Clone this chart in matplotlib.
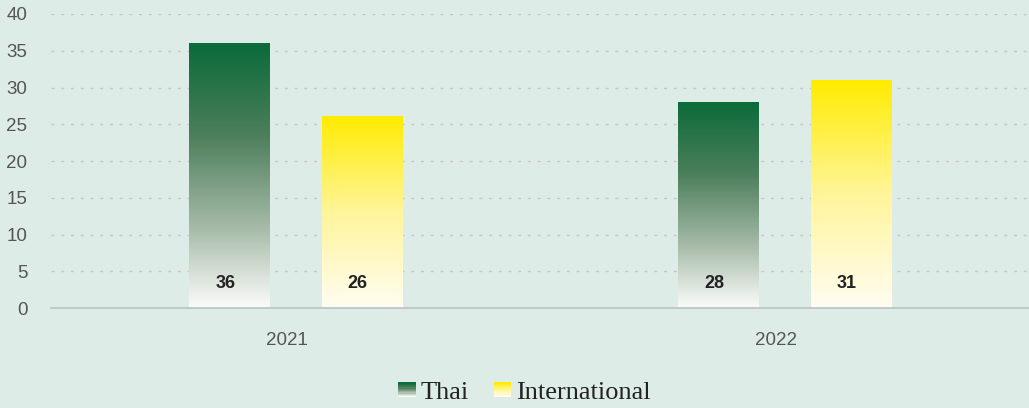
import matplotlib.pyplot as plt
import numpy as np
import matplotlib.transforms as mtransforms
from matplotlib.colors import LinearSegmentedColormap
from matplotlib.legend_handler import HandlerBase
from matplotlib.patches import Rectangle

years = ["2021", "2022"]
series_names = ["Thai", "International"]
thai = [36, 28]
international = [26, 31]

BG = "#deece8"

# vertical fades: top colour -> almost white at the base
green_cmap = LinearSegmentedColormap.from_list(
    "thai", [(0.0, "#fbfcfa"), (0.3, "#a7bba9"), (0.65, "#4d7f5c"), (1.0, "#0b6b3a")])
yellow_cmap = LinearSegmentedColormap.from_list(
    "intl", [(0.0, "#fffdf2"), (0.5, "#fff59a"), (1.0, "#ffec00")])


def gradient_bar(ax, x, w, h, cmap):
    grad = np.linspace(0, 1, 256).reshape(-1, 1)
    ax.imshow(grad, cmap=cmap, origin="lower", aspect="auto",
              extent=(x - w / 2, x + w / 2, 0, h), zorder=3)


class GradientHandler(HandlerBase):
    def __init__(self, cmap):
        super().__init__()
        self.cmap = cmap

    def create_artists(self, legend, orig_handle, xdescent, ydescent,
                       width, height, fontsize, trans):
        n = 12
        arts = []
        for i in range(n):
            r = Rectangle((0, -ydescent + height * i / n), width, height / n + 0.3,
                          facecolor=self.cmap(i / (n - 1)), edgecolor="none",
                          transform=trans)
            arts.append(r)
        return arts


fig = plt.figure(figsize=(10.29, 4.08), dpi=100, facecolor=BG)
ax = fig.add_axes([0.0496, 0.245, 0.9504, 0.7207], facecolor=BG)

# value labels sit a few pixels left of the bar centre
lab_shift = mtransforms.ScaledTranslation(-4 / 100, 0, fig.dpi_scale_trans)

x = np.arange(len(years))
w = 0.164
off = 0.1355
for i in range(len(years)):
    gradient_bar(ax, x[i] - off, w, thai[i], green_cmap)
    gradient_bar(ax, x[i] + off, w, international[i], yellow_cmap)
    for xx, v in [(x[i] - off, thai[i]), (x[i] + off, international[i])]:
        ax.text(xx, 3.4, str(v), ha="center", va="center",
                fontsize=13, fontweight="bold", color="#222222",
                family="Liberation Sans", zorder=4,
                transform=ax.transData + lab_shift)

ax.set_xlim(-0.5, 1.5)
ax.set_ylim(0, 40)
ax.set_yticks(range(0, 41, 5))
# year labels sit slightly left of the group centre
ax.set_xticks(x - 0.018)
ax.set_xticklabels(years)
for lab in ax.get_xticklabels() + ax.get_yticklabels():
    lab.set_family("Liberation Sans")
    lab.set_fontsize(13.5)
    lab.set_color("#555555")
ax.tick_params(axis="y", length=0, pad=17)
ax.tick_params(axis="x", length=0, pad=17)
ax.yaxis.grid(True, linestyle=(0, (2.2, 4.8)), color="#c9c6c6", linewidth=1)
ax.set_axisbelow(True)
for s in ["top", "right", "left"]:
    ax.spines[s].set_visible(False)
ax.spines["bottom"].set_color("#b9c3c1")
ax.spines["bottom"].set_linewidth(1.2)
ax.spines["bottom"].set_zorder(5)

h1 = Rectangle((0, 0), 1, 1)
h2 = Rectangle((0, 0), 1, 1)
fig.legend([h1, h2], series_names, loc="center", bbox_to_anchor=(0.510, 0.036),
           ncol=2, frameon=False, handlelength=0.65, handleheight=0.5,
           handletextpad=0.2, columnspacing=0.95,
           prop={"family": "Liberation Serif", "size": 19},
           handler_map={h1: GradientHandler(green_cmap), h2: GradientHandler(yellow_cmap)})
for t in fig.legends[0].get_texts():
    t.set_color("#222222")

fig.savefig("out.png", dpi=100, facecolor=BG)
